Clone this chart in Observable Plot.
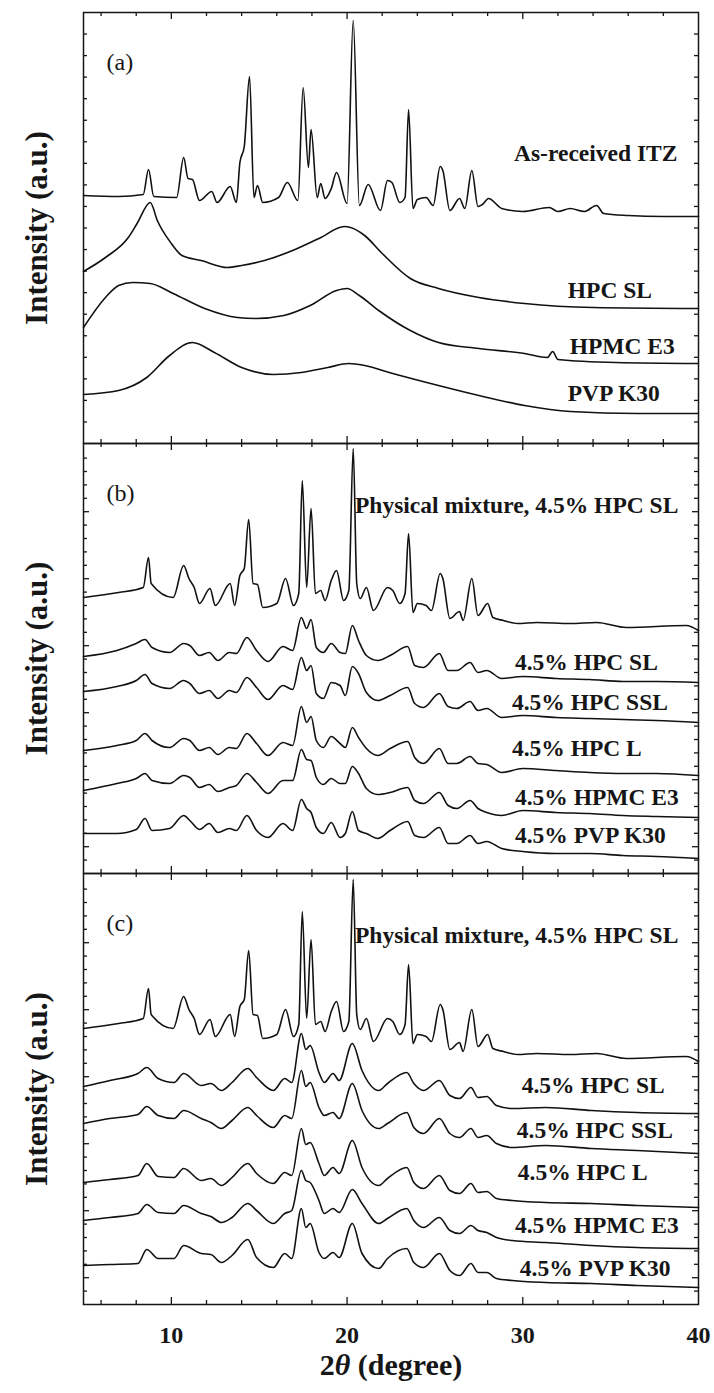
<!DOCTYPE html>
<html><head><meta charset="utf-8">
<script src="https://cdn.jsdelivr.net/npm/d3@7"></script>
<script src="https://cdn.jsdelivr.net/npm/@observablehq/plot@0.6"></script>
<style>
 html,body{margin:0;padding:0;background:#fff;}
 #chart{width:714px;}
 #chart svg{display:block;}
</style>
</head><body><div id="chart"></div>
<script>
// ---------- x ticks ----------
const xMajorTicks = [10, 20, 30];
const xMinorTicks = [6, 8, 12, 14, 16, 18, 22, 24, 26, 28, 32, 34, 36, 38];
const xTickLabels = [10, 20, 30, 40];

// ---------- panel (a) ----------
const itzX = [5, 7, 8.4, 8.7, 9.0, 10.3, 10.7, 10.95, 11.2, 11.6, 12.3, 12.6, 13.35, 13.7, 13.9, 14.15, 14.45, 14.7, 14.9, 15.2, 16.1, 16.6, 17.2, 17.5, 17.8, 17.95, 18.3, 18.5, 18.75, 19.1, 19.4, 20.0, 20.35, 20.7, 21.2, 21.9, 22.3, 22.55, 23.0, 23.3, 23.5, 23.75, 24.0, 24.5, 24.9, 25.3, 25.45, 25.85, 26.4, 26.7, 27.1, 27.45, 27.7, 28.05, 28.8, 30, 31.5, 32, 32.7, 33.5, 34.2, 34.6, 36, 38, 40];
const itzY = [248, 247, 249, 274, 247, 246, 286, 265, 264, 243, 252, 241, 257, 241, 281, 297, 367, 246, 258, 241, 246, 261, 243, 356, 276, 314, 246, 260, 245, 255, 271, 240, 423, 238, 259, 233, 263, 261, 241, 246, 334, 235, 244, 246, 238, 277, 273, 233, 245, 235, 273, 237, 239, 245, 235, 232, 236, 232, 235, 232, 238, 230, 228, 227, 227];

const hpcSlX = [5, 6.25, 7.55, 8.05, 8.8, 9.2, 10, 10.6, 11.7, 13.2, 14, 15.3, 16.9, 18.4, 19.85, 20.2, 21, 22, 23.6, 25.2, 27.5, 30.1, 34, 40];
const hpcSlY = [172, 186, 206, 220, 241, 223, 200, 188, 183, 176, 178, 183, 193, 205, 217, 216, 208, 190, 165, 155, 146, 140, 136, 135];

const hpmcX = [5, 6.25, 7, 7.8, 8.8, 10.1, 11.9, 13.75, 14.8, 16.4, 17.9, 19.4, 20, 20.7, 21.8, 23.6, 25.2, 27.5, 30.1, 31.4, 31.7, 32, 35.3, 40];
const hpmcY = [116, 146, 158, 161, 160, 150, 135, 126, 125, 128, 138, 153, 155, 148, 133, 113, 101, 95, 90, 86, 92, 84, 81, 80];

const pvpX = [5, 7, 8.6, 9.9, 11.2, 12.45, 14, 15.8, 17.4, 18.9, 20.1, 21, 22.6, 25.2, 27.5, 30.1, 32.7, 36.5, 40];
const pvpY = [49, 53, 66, 88, 101, 91, 76, 69, 71, 76, 80, 78, 70, 58, 48, 38, 32, 30, 30];

// ---------- physical mixture (panels b and c) ----------
const pmX = [5, 7, 8.4, 8.7, 8.85, 10.1, 10.7, 11.0, 11.3, 11.6, 12.2, 12.5, 13.35, 13.6, 13.9, 14.15, 14.4, 14.65, 14.9, 15.2, 16.0, 16.5, 16.95, 17.25, 17.45, 17.7, 17.95, 18.2, 18.5, 18.75, 19.1, 19.4, 19.8, 20.1, 20.35, 20.55, 20.75, 21.1, 21.5, 22.3, 22.6, 23.0, 23.3, 23.5, 23.75, 24.0, 24.5, 24.8, 25.3, 25.45, 25.85, 26.4, 26.6, 27.1, 27.45, 28.0, 28.3, 28.9, 29.7, 30.8, 32.7, 34.2, 35.9, 39.3, 40];
const pmY = [276, 281, 286, 316, 290, 276, 308, 295, 286, 270, 285, 268, 290, 268, 298, 305, 354, 290, 289, 266, 270, 295, 268, 280, 393, 286, 365, 280, 283, 273, 293, 303, 273, 283, 425, 290, 275, 286, 263, 286, 283, 270, 280, 340, 261, 270, 268, 263, 300, 295, 255, 262, 253, 295, 258, 270, 256, 253, 250, 251, 250, 251, 246, 248, 243];

// ---------- panel (b) dispersions ----------
const bX = [5.0, 6.9, 8.0, 8.5, 8.9, 9.9, 10.7, 11.05, 11.6, 12.15, 12.65, 13.3, 13.7, 14.3, 14.85, 15.5, 16.35, 16.9, 17.4, 17.7, 17.95, 18.25, 18.65, 19.1, 19.6, 19.9, 20.3, 20.65, 21.1, 21.75, 22.45, 23.45, 23.85, 24.35, 25.25, 25.75, 26.25, 27.0, 27.45, 27.95, 28.8, 30.0, 31.9, 33.8, 35.7, 37.6, 40.0];
const bHpcSl = [217, 223, 230, 234, 226, 221, 230, 228, 218, 221, 213, 221, 220, 236, 223, 212, 227, 223, 256, 245, 254, 226, 221, 230, 221, 220, 248, 233, 218, 213, 218, 227, 208, 206, 220, 203, 203, 211, 201, 203, 195, 197, 195, 194, 192, 192, 191];
const bHpcSsl = [182, 187, 193, 199, 190, 185, 193, 190, 180, 183, 175, 183, 181, 196, 186, 174, 188, 184, 216, 203, 208, 180, 175, 191, 188, 178, 207, 200, 181, 173, 178, 186, 170, 166, 180, 167, 165, 172, 163, 165, 156, 158, 156, 155, 154, 153, 151];
const bHpcL = [123, 128, 133, 140, 133, 126, 135, 133, 123, 126, 119, 126, 125, 140, 130, 118, 131, 128, 167, 151, 157, 133, 126, 137, 130, 126, 146, 136, 125, 118, 125, 132, 116, 110, 125, 110, 110, 117, 110, 109, 101, 105, 103, 101, 100, 100, 98];
const bHpmc = [83, 90, 95, 100, 93, 90, 98, 96, 86, 89, 82, 86, 88, 100, 91, 80, 93, 93, 124, 114, 113, 96, 89, 95, 90, 90, 107, 100, 85, 79, 81, 86, 73, 70, 81, 68, 65, 73, 65, 61, 58, 63, 61, 60, 58, 57, 56];
const bPvp = [40, 40, 44, 55, 43, 45, 58, 53, 44, 50, 41, 45, 43, 58, 43, 36, 50, 43, 74, 65, 61, 46, 40, 51, 36, 40, 62, 43, 40, 35, 43, 52, 38, 36, 46, 30, 30, 38, 30, 32, 25, 22, 20, 20, 18, 17, 15];

// ---------- panel (c) dispersions ----------
const cX = [5.0, 6.5, 8.1, 8.6, 9.25, 10.15, 10.7, 11.7, 12.25, 12.85, 13.45, 14.35, 14.85, 15.8, 16.45, 16.85, 17.4, 17.65, 17.9, 18.4, 18.7, 19.2, 19.55, 20.3, 20.85, 21.8, 22.3, 23.4, 23.8, 24.35, 25.25, 25.85, 26.4, 27.05, 27.45, 27.95, 28.5, 29.4, 31.3, 33.9, 36.5, 40.0];
const cHpcSl = [218, 224, 231, 237, 226, 222, 231, 219, 221, 214, 222, 236, 227, 214, 226, 222, 271, 255, 259, 232, 222, 231, 224, 261, 234, 214, 221, 232, 221, 214, 224, 209, 206, 217, 207, 208, 199, 196, 197, 194, 192, 191];
const cHpcSsl = [181, 186, 190, 198, 189, 186, 194, 186, 182, 176, 184, 197, 189, 177, 189, 186, 234, 218, 222, 197, 189, 192, 186, 221, 194, 176, 181, 192, 177, 171, 186, 171, 167, 176, 167, 169, 161, 157, 159, 156, 154, 151];
const cHpcL = [122, 125, 129, 141, 128, 127, 136, 124, 126, 119, 127, 141, 131, 121, 132, 129, 176, 160, 162, 141, 129, 137, 131, 164, 137, 119, 126, 137, 122, 116, 129, 114, 111, 121, 112, 113, 106, 104, 102, 101, 99, 97];
const cHpmc = [84, 87, 91, 100, 92, 91, 99, 91, 88, 82, 87, 101, 94, 81, 91, 94, 134, 124, 122, 104, 91, 96, 92, 115, 101, 81, 86, 96, 84, 77, 87, 74, 71, 79, 74, 72, 67, 64, 62, 59, 57, 56];
const cPvp = [39, 40, 41, 55, 46, 46, 59, 51, 50, 42, 49, 65, 47, 37, 51, 46, 96, 77, 81, 52, 46, 52, 47, 81, 51, 36, 46, 56, 42, 37, 51, 34, 29, 41, 32, 32, 26, 24, 22, 21, 19, 17];

// ---------- curve labels ----------
const labelsA = ["As-received ITZ", "HPC SL", "HPMC E3", "PVP K30"];
const labelsAX = [29.5, 32.56, 32.67, 32.56];
const labelsAY = [290, 153, 97, 50];
const labelsB = ["Physical mixture, 4.5% HPC SL", "4.5% HPC SL", "4.5% HPC SSL", "4.5% HPC L", "4.5% HPMC E3", "4.5% PVP K30"];
const labelsBX = [20.45, 29.55, 29.38, 29.38, 29.55, 29.55];
const labelsBY = [368, 211, 171, 125, 76, 38];
const labelsCX = [20.45, 29.94, 29.66, 29.72, 29.55, 29.83];
const labelsCY = [369, 219, 174, 132, 79, 36];

const yLabel = "Intensity (a.u.)";
const xLabel = "2θ (degree)";

// ---------- rendering ----------
const W = 714, ML = 83, MR = 16, PW = W - ML - MR;
const FONT = "'Liberation Serif', 'Times New Roman', serif";
const INK = "#161616";

function rows(xs, ys) { return xs.map((x, i) => ({x, y: ys[i]})); }
function labelRows(ts, xs, ys) { return ts.map((t, i) => ({t, x: xs[i], y: ys[i]})); }

function panel({height, marginTop = 0, marginBottom = 0, yMax, yTicksMinor, yTicksMajor, curves, labels, letter, bottomAxis}) {
  const ph = height - marginTop - marginBottom;
  const tk = {stroke: INK, strokeWidth: 1.3};
  const marks = [
    Plot.tickX(xMinorTicks, {x: d => d, insetTop: ph - 4, ...tk}),
    Plot.tickX(xMajorTicks, {x: d => d, insetTop: ph - 7, ...tk}),
    Plot.tickX(xMinorTicks, {x: d => d, insetBottom: ph - 4, ...tk}),
    Plot.tickX(xMajorTicks, {x: d => d, insetBottom: ph - 7, ...tk}),
    Plot.tickY(yTicksMinor, {y: d => d, insetRight: PW - 4, ...tk}),
    Plot.tickY(yTicksMajor, {y: d => d, insetRight: PW - 6, ...tk}),
    Plot.tickY(yTicksMinor, {y: d => d, insetLeft: PW - 4, ...tk}),
    Plot.tickY(yTicksMajor, {y: d => d, insetLeft: PW - 6, ...tk}),
    Plot.frame({stroke: INK, strokeWidth: 1.5}),
    ...curves.map(c => Plot.line(rows(c[0], c[1]), {x: "x", y: "y", curve: "monotone-x", stroke: "#111", strokeWidth: 1.6, strokeLinejoin: "round"})),
    Plot.text(labels, {x: "x", y: "y", text: "t", textAnchor: "start", fontSize: 23.5, fontWeight: "bold", fill: INK}),
    Plot.text([letter], {text: d => d, frameAnchor: "top-left", dx: 23, dy: 40, textAnchor: "start", fontSize: 24, fontWeight: "normal", fill: INK}),
    Plot.text([yLabel], {text: d => d, frameAnchor: "left", dx: -46, rotate: -90, textAnchor: "middle", fontSize: 31, fontWeight: "bold", fill: INK})
  ];
  if (bottomAxis) {
    marks.push(Plot.text([xLabel], {text: d => d, frameAnchor: "bottom", dy: 70, textAnchor: "middle", fontSize: 30, fontWeight: "bold", fill: INK}));
  }
  const svg = Plot.plot({
    width: W, height, marginLeft: ML, marginRight: MR, marginTop, marginBottom,
    style: {fontFamily: FONT, fontSize: "24px", fontWeight: "bold", background: "white", color: INK, overflow: "visible"},
    x: bottomAxis
      ? {domain: [5, 40], ticks: xTickLabels, tickSize: 0, tickPadding: 21, tickFormat: d => String(d), label: null}
      : {domain: [5, 40], axis: null},
    y: {domain: [0, yMax], axis: null},
    marks
  });
  return svg;
}

const ticksA = d3.range(1, 20).map(k => k * 21.55);
const ticksBCminor = d3.range(1, 32).filter(k => (k - 2) % 5 !== 0).map(k => k * 13.4);
const ticksBCmajor = d3.range(1, 32).filter(k => (k - 2) % 5 === 0).map(k => k * 13.4);

const chart = document.getElementById("chart");

chart.appendChild(panel({
  height: 443, marginTop: 12, yMax: 431,
  yTicksMinor: ticksA, yTicksMajor: [],
  curves: [[itzX, itzY], [hpcSlX, hpcSlY], [hpmcX, hpmcY], [pvpX, pvpY]],
  labels: labelRows(labelsA, labelsAX, labelsAY), letter: "(a)"
}));

chart.appendChild(panel({
  height: 430, yMax: 430,
  yTicksMinor: ticksBCminor, yTicksMajor: ticksBCmajor,
  curves: [[pmX, pmY], [bX, bHpcSl], [bX, bHpcSsl], [bX, bHpcL], [bX, bHpmc], [bX, bPvp]],
  labels: labelRows(labelsB, labelsBX, labelsBY), letter: "(b)"
}));

const svgC = panel({
  height: 520, marginBottom: 89, yMax: 431,
  yTicksMinor: ticksBCminor, yTicksMajor: ticksBCmajor,
  curves: [[pmX, pmY], [cX, cHpcSl], [cX, cHpcSsl], [cX, cHpcL], [cX, cHpmc], [cX, cPvp]],
  labels: labelRows(labelsB, labelsCX, labelsCY), letter: "(c)", bottomAxis: true
});
chart.appendChild(svgC);

// italic theta in the axis title
d3.select(svgC).selectAll("text").filter(function () { return this.textContent === xLabel; }).each(function () {
  const t = d3.select(this);
  t.text(null);
  t.append("tspan").text("2");
  t.append("tspan").attr("font-style", "italic").text("θ");
  t.append("tspan").text(" (degree)");
});
</script></body></html>
